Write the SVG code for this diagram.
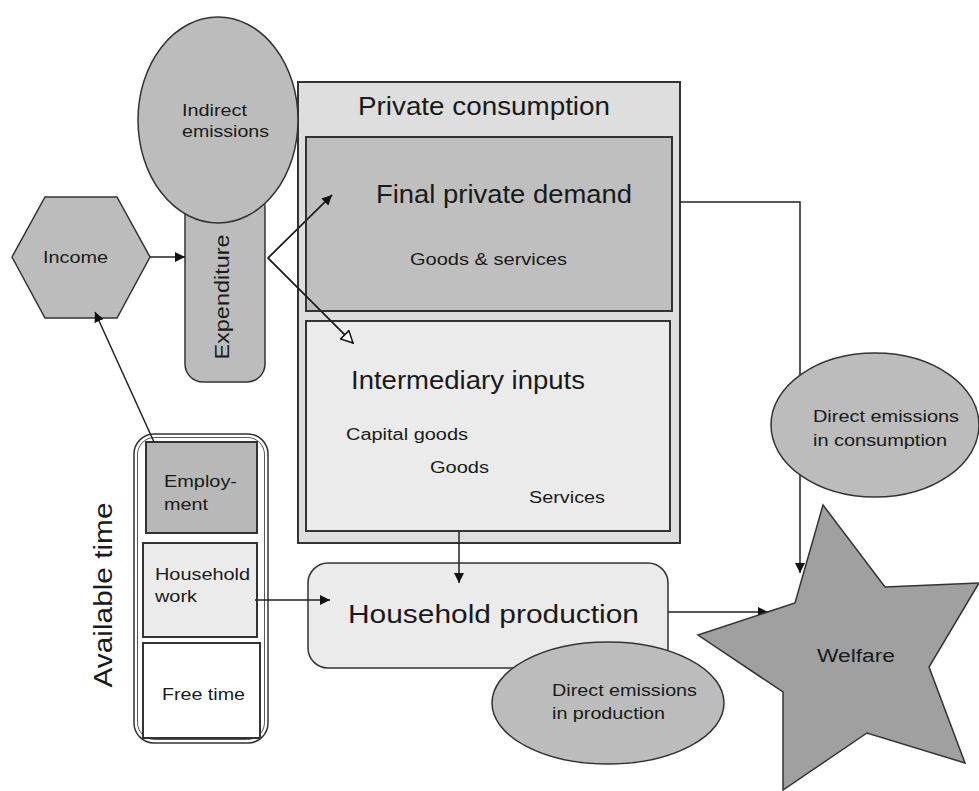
<svg xmlns="http://www.w3.org/2000/svg" width="979" height="791" viewBox="0 0 979 791">
<style>
text{font-family:"Liberation Sans",Arial,sans-serif;fill:#1a1a1a}
.s{font-size:16px}
.b{font-size:25px}
.ln{stroke:#222;stroke-width:1.5;fill:none}
.box{stroke:#333;stroke-width:2}
.ell{fill:#bcbcbc;stroke:#333;stroke-width:1.5}
</style>
<defs>
<marker id="fa" viewBox="0 0 10 10" refX="10" refY="5" markerWidth="10" markerHeight="10" markerUnits="userSpaceOnUse" orient="auto">
<path d="M0,0 L10,5 L0,10 Z" fill="#111"/>
</marker>
<marker id="oa" viewBox="0 0 12 12" refX="11" refY="6" markerWidth="14" markerHeight="14" markerUnits="userSpaceOnUse" orient="auto">
<path d="M1,1 L11,6 L1,11 Z" fill="#fff" stroke="#111" stroke-width="1.3"/>
</marker>
</defs>
<rect width="979" height="791" fill="#fff"/>

<g id="private-consumption">
<rect x="298" y="82" width="382" height="461" fill="#dedede" class="box"/>
<text x="358" y="115" class="b" font-size="24" textLength="252" lengthAdjust="spacingAndGlyphs">Private consumption</text>
</g>
<g id="final-private-demand">
<rect x="306" y="137" width="366" height="174" fill="#bfbfbf" class="box"/>
<text x="376" y="203" class="b" textLength="256" lengthAdjust="spacingAndGlyphs">Final private demand</text>
<text x="410" y="265" class="s" textLength="157" lengthAdjust="spacingAndGlyphs">Goods &amp; services</text>
</g>
<g id="intermediary-inputs">
<rect x="306" y="321" width="364" height="210" fill="#ebebeb" class="box"/>
<text x="351" y="389" class="b" textLength="234" lengthAdjust="spacingAndGlyphs">Intermediary inputs</text>
<text x="346" y="440" class="s" textLength="122" lengthAdjust="spacingAndGlyphs">Capital goods</text>
<text x="430" y="473" class="s" textLength="59" lengthAdjust="spacingAndGlyphs">Goods</text>
<text x="529" y="503" class="s" textLength="76" lengthAdjust="spacingAndGlyphs">Services</text>
</g>

<g id="expenditure">
<rect x="185" y="190" width="80" height="192" rx="18" fill="#bcbcbc" stroke="#333" stroke-width="1.5"/>
<text transform="translate(229,297) rotate(-90)" text-anchor="middle" font-size="21" textLength="125" lengthAdjust="spacingAndGlyphs">Expenditure</text>
</g>

<g id="income">
<polygon points="12,257 45,197 117,197 150,257 117,318 45,318" fill="#bcbcbc" stroke="#333" stroke-width="1.5"/>
<text x="43" y="263" class="s" textLength="65" lengthAdjust="spacingAndGlyphs">Income</text>
</g>

<g id="available-time">
<rect x="134" y="434" width="134" height="309" rx="20" fill="#fff" stroke="#333" stroke-width="1.5"/>
<rect x="137.5" y="437.5" width="127" height="302" rx="17" fill="none" stroke="#555" stroke-width="1"/>
<text transform="translate(112,595) rotate(-90)" text-anchor="middle" font-size="25" textLength="185" lengthAdjust="spacingAndGlyphs">Available time</text>
</g>
<g id="employment">
<rect x="146" y="442" width="111" height="91" fill="#b8b8b8" class="box"/>
<text x="164" y="487" class="s" textLength="73" lengthAdjust="spacingAndGlyphs">Employ-</text>
<text x="164" y="510" class="s" textLength="44" lengthAdjust="spacingAndGlyphs">ment</text>
</g>
<g id="household-work">
<rect x="143" y="543" width="114" height="94" fill="#ebebeb" class="box"/>
<text x="155" y="580" class="s" textLength="95" lengthAdjust="spacingAndGlyphs">Household</text>
<text x="155" y="602" class="s" textLength="42" lengthAdjust="spacingAndGlyphs">work</text>
</g>
<g id="free-time">
<rect x="143" y="643" width="117" height="95" fill="#fff" class="box"/>
<text x="162" y="700" class="s" textLength="83" lengthAdjust="spacingAndGlyphs">Free time</text>
</g>

<g id="household-production">
<rect x="308" y="563" width="360" height="105" rx="20" fill="#ebebeb" stroke="#333" stroke-width="1.5"/>
<text x="348" y="623" font-size="26" textLength="291" lengthAdjust="spacingAndGlyphs">Household production</text>
</g>

<g id="connectors">
<line x1="150" y1="257" x2="185" y2="257" class="ln" marker-end="url(#fa)"/>
<line x1="154" y1="442" x2="95" y2="312" class="ln" marker-end="url(#fa)"/>
<polyline points="332,195 268,258 353,343" class="ln"/>
<line x1="268" y1="258" x2="332" y2="195" class="ln" marker-end="url(#fa)"/>
<line x1="268" y1="258" x2="353" y2="343" class="ln" marker-end="url(#oa)"/>
<line x1="459" y1="531" x2="459" y2="583" class="ln" marker-end="url(#fa)"/>
<line x1="255" y1="600" x2="330" y2="600" class="ln" marker-end="url(#fa)"/>
<line x1="668" y1="612" x2="768" y2="612" class="ln" marker-end="url(#fa)"/>
<polyline points="680,202 800,202 800,573" class="ln" marker-end="url(#fa)"/>
</g>

<g id="indirect-emissions">
<ellipse cx="218" cy="120" rx="80" ry="103" class="ell"/>
<text x="182" y="116" class="s" textLength="65" lengthAdjust="spacingAndGlyphs">Indirect</text>
<text x="182" y="137" class="s" textLength="87" lengthAdjust="spacingAndGlyphs">emissions</text>
</g>

<g id="direct-emissions-consumption">
<ellipse cx="875" cy="425" rx="104" ry="72" class="ell"/>
<text x="813" y="422" class="s" textLength="146" lengthAdjust="spacingAndGlyphs">Direct emissions</text>
<text x="813" y="446" class="s" textLength="134" lengthAdjust="spacingAndGlyphs">in consumption</text>
</g>

<g id="direct-emissions-production">
<ellipse cx="608" cy="703" rx="116" ry="61" class="ell"/>
<text x="552" y="696" class="s" textLength="145" lengthAdjust="spacingAndGlyphs">Direct emissions</text>
<text x="552" y="719" class="s" textLength="113" lengthAdjust="spacingAndGlyphs">in production</text>
</g>

<g id="welfare">
<polygon points="823,505 885,587 979,583 929,667 965,763 867,733 783,790 783,692 698,635 795,603" fill="#a0a0a0" stroke="#333" stroke-width="1.5"/>
<text x="817" y="662" font-size="18" textLength="78" lengthAdjust="spacingAndGlyphs">Welfare</text>
</g>
</svg>
